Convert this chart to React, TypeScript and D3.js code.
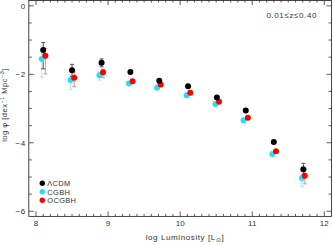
import React from "react";
import * as d3 from "d3";

// luminosity bins (log L_sun), slightly shifted per model as in the figure
const lumLcdm = [8.1, 8.5, 8.91, 9.31, 9.71, 10.11, 10.51, 10.91, 11.3, 11.71];
const lumCgbh = [8.08, 8.48, 8.88, 9.29, 9.68, 10.09, 10.49, 10.88, 11.28, 11.69];
const lumOcgbh = [8.13, 8.53, 8.93, 9.34, 9.73, 10.14, 10.54, 10.94, 11.33, 11.73];

// log phi values
const lcdm = [-1.29, -1.88, -1.66, -1.93, -2.19, -2.35, -2.68, -3.06, -3.98, -4.77];
const cgbh = [-1.55, -2.17, -2.03, -2.27, -2.39, -2.61, -2.87, -3.34, -4.33, -5.03];
const ocgbh = [-1.46, -2.1, -1.94, -2.2, -2.3, -2.54, -2.8, -3.27, -4.25, -4.96];

// errors (upper / lower)
const lcdmHi = [0.22, 0.17, 0.11, 0.03, 0.03, 0.03, 0.03, 0.03, 0.04, 0.17];
const lcdmLo = [0.55, 0.19, 0.12, 0.03, 0.03, 0.03, 0.03, 0.03, 0.04, 0.17];
const cgbhHi = [0.25, 0.15, 0.1, 0.03, 0.03, 0.03, 0.03, 0.03, 0.04, 0.19];
const cgbhLo = [0.54, 0.27, 0.14, 0.03, 0.03, 0.03, 0.03, 0.03, 0.04, 0.25];
const ocgbhHi = [0.22, 0.17, 0.09, 0.03, 0.03, 0.03, 0.03, 0.03, 0.04, 0.17];
const ocgbhLo = [0.53, 0.26, 0.16, 0.03, 0.03, 0.03, 0.03, 0.03, 0.04, 0.24];

const xTickLabels = [8, 9, 10, 11, 12];
const yTickLabels = [0, -2, -4, -6];

const series = [
  { name: "\u039BCDM", xs: lumLcdm, ys: lcdm, hi: lcdmHi, lo: lcdmLo, color: "#000000", bar: "#555555" },
  { name: "CGBH", xs: lumCgbh, ys: cgbh, hi: cgbhHi, lo: cgbhLo, color: "#22e0f5", bar: "#9eeef8" },
  { name: "OCGBH", xs: lumOcgbh, ys: ocgbh, hi: ocgbhHi, lo: ocgbhLo, color: "#ff0000", bar: "#f08a8a" },
];

const W = 334, H = 245;
const font = "'Liberation Sans', Arial, sans-serif";
const txt = "#333";

export default function App() {
  const x = d3.scaleLinear().domain([7.9, 12.1]).range([28.8, 331.5]);
  const y = d3.scaleLinear().domain([-6.15, 0.17]).range([216.4, 0]);
  const [x0, x1] = x.range();
  const [yb, yt] = y.range();

  const xMinor = d3.range(80, 121).map((d) => d / 10);
  const yMinor = d3.range(-12, 1).map((d) => d / 2);
  const axisColor = "#333";

  // black drawn last so it sits on top
  const drawOrder = [series[1], series[2], series[0]];

  return (
    <svg width={W} height={H} style={{ position: "absolute", left: 0, top: 0, background: "#fff" }}>
      {/* frame */}
      <rect x={x0} y={yt + 0.5} width={x1 - x0} height={yb - yt - 0.5} fill="none" stroke={axisColor} strokeWidth={0.9} />
      {/* x ticks */}
      {xMinor.map((v, i) => {
        const major = Math.abs(v - Math.round(v)) < 1e-6;
        const len = major ? 5 : 2.5;
        return (
          <g key={"xt" + i} stroke={axisColor} strokeWidth={0.8}>
            <line x1={x(v)} x2={x(v)} y1={yb} y2={yb - len} />
            <line x1={x(v)} x2={x(v)} y1={yt} y2={yt + len} />
          </g>
        );
      })}
      {/* y ticks */}
      {yMinor.map((v, i) => {
        const major = Math.abs(v / 2 - Math.round(v / 2)) < 1e-6;
        const len = major ? 5 : 3;
        return (
          <g key={"yt" + i} stroke={axisColor} strokeWidth={0.8}>
            <line x1={x0} x2={x0 + len} y1={y(v)} y2={y(v)} />
            <line x1={x1} x2={x1 - len} y1={y(v)} y2={y(v)} />
          </g>
        );
      })}
      {xTickLabels.map((v) => (
        <text key={"xl" + v} x={x(v)} y={225.5} fontSize={8} fontFamily={font} textAnchor="middle" fill={txt}>
          {v}
        </text>
      ))}
      {yTickLabels.map((v) => (
        <text key={"yl" + v} x={25.5} y={y(v) + 3} fontSize={8} fontFamily={font} textAnchor="end" fill={txt} letterSpacing={0.4}>
          {v === 0 ? "0" : "\u2212" + Math.abs(v)}
        </text>
      ))}
      {/* axis titles */}
      <text x={185} y={240} fontSize={8} fontFamily={font} textAnchor="middle" fill={txt} letterSpacing={0.6}>
        log Luminosity [L<tspan fontSize={6} dy={2}>{"\u2299"}</tspan><tspan dy={-2}>]</tspan>
      </text>
      <text transform={`translate(7,${105}) rotate(-90)`} fontSize={7.5} fontFamily={font} textAnchor="middle" fill={txt} letterSpacing={0.5}>
        log {"\u03C6"} [dex<tspan fontSize={5.5} dy={-3}>{"\u22121"}</tspan>
        <tspan dy={3}> Mpc</tspan><tspan fontSize={5.5} dy={-3}>{"\u22123"}</tspan><tspan dy={3}>]</tspan>
      </text>
      <text x={317} y={18} fontSize={8} fontFamily={font} textAnchor="end" fill={txt} letterSpacing={0.6}>
        0.01{"\u2264"}z{"\u2264"}0.40
      </text>
      {/* error bars */}
      {drawOrder.map((s) => (
        <g key={"e" + s.name} stroke={s.bar} strokeWidth={1}>
          {s.ys.map((v, i) => {
            const cx = x(s.xs[i]);
            const top = y(v + s.hi[i]);
            const bot = y(v - s.lo[i]);
            return (
              <g key={i}>
                <line x1={cx} x2={cx} y1={top} y2={bot} />
                <line x1={cx - 2} x2={cx + 2} y1={top} y2={top} />
                <line x1={cx - 2} x2={cx + 2} y1={bot} y2={bot} />
              </g>
            );
          })}
        </g>
      ))}
      {/* markers */}
      {drawOrder.map((s) => (
        <g key={"m" + s.name} fill={s.color}>
          {s.ys.map((v, i) => (
            <circle key={i} cx={x(s.xs[i])} cy={y(v)} r={3} />
          ))}
        </g>
      ))}
      {/* legend */}
      {series.map((s, i) => (
        <g key={"lg" + s.name} transform={`translate(42.3,${183.3 + i * 8.5})`}>
          <circle cx={0} cy={0} r={2.7} fill={s.color} />
          <text x={5} y={2.8} fontSize={7.5} fontFamily={font} fill={txt} letterSpacing={0.3}>
            {s.name}
          </text>
        </g>
      ))}
    </svg>
  );
}
